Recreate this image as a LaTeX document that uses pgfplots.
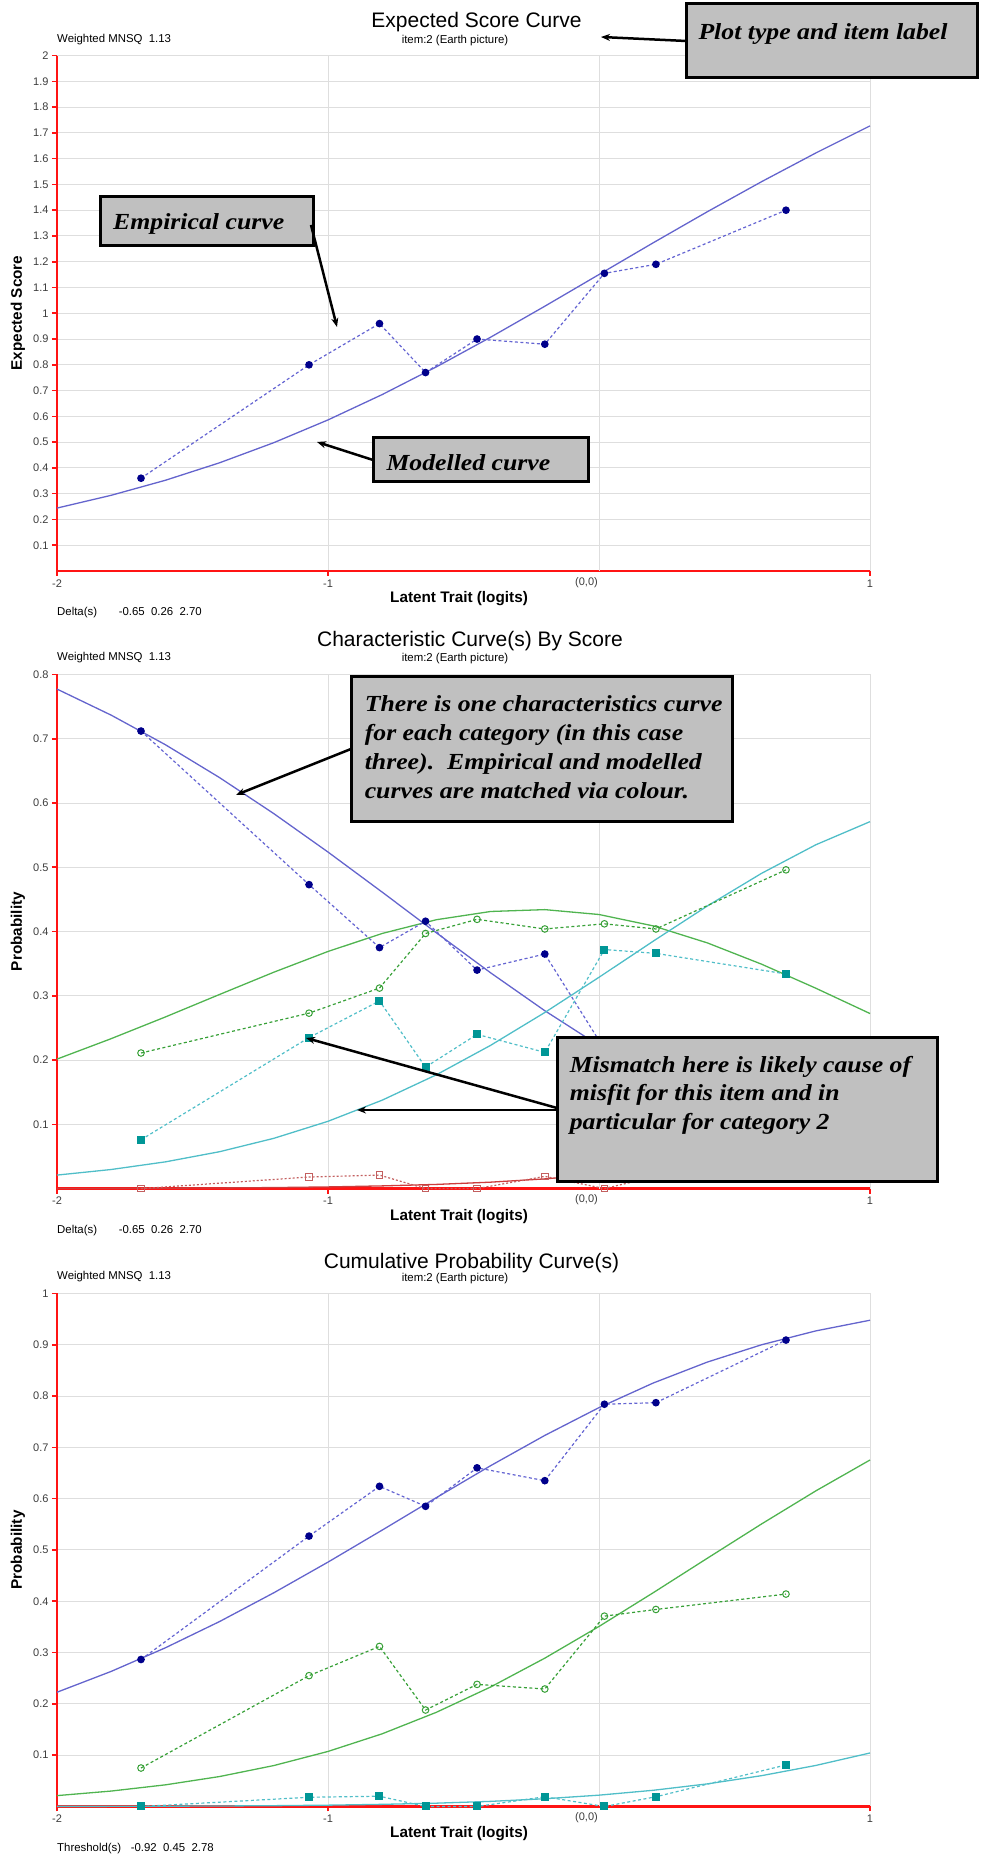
\documentclass[border=0pt]{standalone}
\usepackage{fontspec}
\setmainfont{Liberation Sans}
\newfontfamily\boxfont[FakeStretch=1.12]{Liberation Serif}
\usepackage{pgfplots}
\pgfplotsset{compat=1.18}
\usetikzlibrary{arrows.meta}
\definecolor{axred}{RGB}{255,20,20}
\definecolor{gridgray}{RGB}{222,222,222}
\definecolor{tickgray}{RGB}{60,60,60}
\definecolor{mblue}{RGB}{100,100,205}
\definecolor{eblue}{RGB}{0,0,139}
\definecolor{eblueline}{RGB}{100,100,210}
\definecolor{mgreen}{RGB}{80,180,80}
\definecolor{egreen}{RGB}{55,160,55}
\definecolor{mteal}{RGB}{80,190,200}
\definecolor{eteal}{RGB}{0,150,150}
\definecolor{etealline}{RGB}{80,190,200}
\definecolor{mred}{RGB}{205,60,60}
\definecolor{ered}{RGB}{195,95,95}
\definecolor{boxgray}{RGB}{192,192,192}
\newcommand\tickf{\fontsize{11}{13}\selectfont}
\newcommand\smallf{\fontsize{11.4}{13}\selectfont}
\newcommand\titlef{\fontsize{21}{24}\selectfont}
\newcommand\labf{\fontsize{15.3}{17}\selectfont\bfseries}
\newcommand\bxf{\boxfont\bfseries\itshape\fontsize{23}{28.5}\selectfont}
\pgfplotsset{
  irt/.style={
    scale only axis, width=813pt,
    xmin=-2, xmax=1, ymin=0,
    axis x line=bottom, axis y line=left,
    axis line style={-, draw=axred, line width=2.2pt},
    xtick={-2,-1,1}, xticklabels={-2,-1,1},
    extra x ticks={0}, extra x tick labels={},
    extra x tick style={major tick length=0pt, grid=major},
    grid=major,
    major grid style={draw=gridgray, line width=1pt},
    tick style={draw=axred, line width=1.6pt},
    tick align=outside, major tick length=5pt,
    ticklabel style={font=\tickf, text=tickgray},
    clip=false,
  },
  model/.style={line width=1.3pt},
  emp/.style={line width=1.2pt, dash pattern=on 3pt off 2.5pt},
}
\begin{document}
\begin{tikzpicture}[x=1pt,y=1pt]
\useasboundingbox (0,0) rectangle (989,1855);
% ---------------- Top: expected score
\begin{axis}[irt, at={(57pt,1284pt)}, anchor=south west, height=515.4pt, ymax=2,
  ytick={0.1,0.2,0.3,0.4,0.5,0.6,0.7,0.8,0.9,1,1.1,1.2,1.3,1.4,1.5,1.6,1.7,1.8,1.9,2},
  yticklabels={0.1,0.2,0.3,0.4,0.5,0.6,0.7,0.8,0.9,1,1.1,1.2,1.3,1.4,1.5,1.6,1.7,1.8,1.9,2}]
\addplot[model, mblue] coordinates {(-2.0,0.2441)(-1.8,0.2937)(-1.6,0.3520)(-1.4,0.4199)(-1.2,0.4979)(-1.0,0.5862)(-0.8,0.6846)(-0.6,0.7921)(-0.4,0.9071)(-0.2,1.0274)(0.0,1.1504)(0.2,1.2735)(0.4,1.3942)(0.6,1.5107)(0.8,1.6220)(1.0,1.7272)};
\addplot[emp, eblueline, mark=*, mark size=3.2pt, mark options={solid, fill=eblue, draw=eblue}] coordinates {(-1.69,0.36)(-1.07,0.80)(-0.81,0.96)(-0.64,0.77)(-0.45,0.90)(-0.20,0.88)(0.02,1.155)(0.21,1.19)(0.69,1.40)};
\node[anchor=north east, font=\tickf, text=tickgray, inner sep=1pt] at (axis cs:0,0) [yshift=-5pt] {(0,0)};
\end{axis}
% ---------------- Middle: characteristic curves
\begin{axis}[irt, at={(57pt,666.4pt)}, anchor=south west, height=514.1pt, ymax=0.8,
  ytick={0.1,0.2,0.3,0.4,0.5,0.6,0.7,0.8},
  yticklabels={0.1,0.2,0.3,0.4,0.5,0.6,0.7,0.8}]
\addplot[model, mblue] coordinates {(-2.0,0.7773)(-1.8,0.7367)(-1.6,0.6907)(-1.4,0.6395)(-1.2,0.5835)(-1.0,0.5237)(-0.8,0.4613)(-0.6,0.3980)(-0.4,0.3358)(-0.2,0.2768)(0.0,0.2226)(0.2,0.1747)(0.4,0.1338)(0.6,0.1001)(0.8,0.0731)(1.0,0.0523)};
\addplot[model, mgreen] coordinates {(-2.0,0.2015)(-1.8,0.2333)(-1.6,0.2671)(-1.4,0.3021)(-1.2,0.3367)(-1.0,0.3690)(-0.8,0.3970)(-0.6,0.4184)(-0.4,0.4312)(-0.2,0.4341)(0.0,0.4265)(0.2,0.4088)(0.4,0.3823)(0.6,0.3492)(0.8,0.3118)(1.0,0.2724)};
\addplot[model, mteal] coordinates {(-2.0,0.0210)(-1.8,0.0297)(-1.6,0.0416)(-1.4,0.0574)(-1.2,0.0782)(-1.0,0.1047)(-0.8,0.1376)(-0.6,0.1771)(-0.4,0.2229)(-0.2,0.2740)(0.0,0.3288)(0.2,0.3850)(0.4,0.4398)(0.6,0.4906)(0.8,0.5350)(1.0,0.5710)};
\addplot[model, mred] coordinates {(-2.0,0.0002)(-1.8,0.0003)(-1.6,0.0006)(-1.4,0.0010)(-1.2,0.0016)(-1.0,0.0026)(-0.8,0.0042)(-0.6,0.0065)(-0.4,0.0100)(-0.2,0.0151)(0.0,0.0221)(0.2,0.0316)(0.4,0.0441)(0.6,0.0601)(0.8,0.0800)(1.0,0.1043)};
\addplot[emp, eblueline, mark=*, mark size=3.2pt, mark options={solid, fill=eblue, draw=eblue}] coordinates {(-1.69,0.712)(-1.07,0.473)(-0.81,0.375)(-0.64,0.416)(-0.45,0.340)(-0.20,0.365)(0.02,0.217)(0.21,0.213)(0.69,0.091)};
\addplot[emp, egreen, mark=o, mark size=3.3pt, mark options={solid, draw=egreen, line width=1pt}] coordinates {(-1.69,0.211)(-1.07,0.273)(-0.81,0.312)(-0.64,0.397)(-0.45,0.419)(-0.20,0.404)(0.02,0.412)(0.21,0.404)(0.69,0.496)};
\addplot[emp, etealline, mark=square*, mark size=3.4pt, mark options={solid, fill=eteal, draw=eteal}] coordinates {(-1.69,0.076)(-1.07,0.235)(-0.81,0.292)(-0.64,0.189)(-0.45,0.240)(-0.20,0.212)(0.02,0.372)(0.21,0.366)(0.69,0.334)};
\addplot[line width=1.2pt, dash pattern=on 2pt off 2pt, ered, mark=square, mark size=3.2pt, mark options={solid, draw=ered, line width=1pt}] coordinates {(-1.69,0)(-1.07,0.018)(-0.81,0.021)(-0.64,0)(-0.45,0)(-0.20,0.019)(0.02,0)(0.21,0.019)(0.69,0.081)};
\node[anchor=north east, font=\tickf, text=tickgray, inner sep=1pt] at (axis cs:0,0) [yshift=-5pt] {(0,0)};
\end{axis}
% ---------------- Bottom: cumulative
\begin{axis}[irt, at={(57pt,48.5pt)}, anchor=south west, height=513.1pt, ymax=1,
  ytick={0.1,0.2,0.3,0.4,0.5,0.6,0.7,0.8,0.9,1},
  yticklabels={0.1,0.2,0.3,0.4,0.5,0.6,0.7,0.8,0.9,1}]
\addplot[model, mblue] coordinates {(-2.0,0.2227)(-1.8,0.2633)(-1.6,0.3093)(-1.4,0.3605)(-1.2,0.4165)(-1.0,0.4763)(-0.8,0.5387)(-0.6,0.6020)(-0.4,0.6642)(-0.2,0.7232)(0.0,0.7774)(0.2,0.8253)(0.4,0.8662)(0.6,0.8999)(0.8,0.9269)(1.0,0.9477)};
\addplot[model, mgreen] coordinates {(-2.0,0.0212)(-1.8,0.0301)(-1.6,0.0422)(-1.4,0.0584)(-1.2,0.0798)(-1.0,0.1073)(-0.8,0.1417)(-0.6,0.1836)(-0.4,0.2329)(-0.2,0.2891)(0.0,0.3509)(0.2,0.4166)(0.4,0.4839)(0.6,0.5507)(0.8,0.6151)(1.0,0.6753)};
\addplot[model, mteal] coordinates {(-2.0,0.0002)(-1.8,0.0003)(-1.6,0.0006)(-1.4,0.0010)(-1.2,0.0016)(-1.0,0.0026)(-0.8,0.0042)(-0.6,0.0065)(-0.4,0.0100)(-0.2,0.0151)(0.0,0.0221)(0.2,0.0316)(0.4,0.0441)(0.6,0.0601)(0.8,0.0800)(1.0,0.1043)};
\addplot[emp, eblueline, mark=*, mark size=3.2pt, mark options={solid, fill=eblue, draw=eblue}] coordinates {(-1.69,0.2865)(-1.07,0.527)(-0.81,0.624)(-0.64,0.585)(-0.45,0.660)(-0.20,0.635)(0.02,0.784)(0.21,0.787)(0.69,0.909)};
\addplot[emp, egreen, mark=o, mark size=3.3pt, mark options={solid, draw=egreen, line width=1pt}] coordinates {(-1.69,0.075)(-1.07,0.255)(-0.81,0.312)(-0.64,0.188)(-0.45,0.238)(-0.20,0.229)(0.02,0.371)(0.21,0.384)(0.69,0.414)};
\addplot[emp, etealline, mark=square*, mark size=3.4pt, mark options={solid, fill=eteal, draw=eteal}] coordinates {(-1.69,0)(-1.07,0.018)(-0.81,0.020)(-0.64,0)(-0.45,0)(-0.20,0.019)(0.02,0)(0.21,0.019)(0.69,0.081)};
\node[anchor=north east, font=\tickf, text=tickgray, inner sep=1pt] at (axis cs:0,0) [yshift=-5pt] {(0,0)};
\end{axis}
% ---------------- texts
\node[anchor=base, font=\titlef] at (476.5,1827.4) {Expected Score Curve};
\node[anchor=base west, font=\smallf, inner sep=0pt] at (57,1812) {Weighted MNSQ\ \ 1.13};
\node[anchor=base, font=\smallf, inner sep=0pt] at (455,1811.4) {item:2 (Earth picture)};
\node[anchor=base, font=\labf] at (459,1252.5) {Latent Trait (logits)};
\node[anchor=base west, font=\smallf, inner sep=0pt] at (57,1239) {Delta(s)};
\node[anchor=base west, font=\smallf, inner sep=0pt] at (118.6,1239) {-0.65\ \ 0.26\ \ 2.70};
\node[rotate=90, font=\labf] at (18,1542) {Expected Score};

\node[anchor=base, font=\titlef] at (470,1208.5) {Characteristic Curve(s) By Score};
\node[anchor=base west, font=\smallf, inner sep=0pt] at (57,1194.5) {Weighted MNSQ\ \ 1.13};
\node[anchor=base, font=\smallf, inner sep=0pt] at (455,1193.5) {item:2 (Earth picture)};
\node[anchor=base, font=\labf] at (459,634.9) {Latent Trait (logits)};
\node[anchor=base west, font=\smallf, inner sep=0pt] at (57,621.4) {Delta(s)};
\node[anchor=base west, font=\smallf, inner sep=0pt] at (118.6,621.4) {-0.65\ \ 0.26\ \ 2.70};
\node[rotate=90, font=\labf] at (18,923.5) {Probability};

\node[anchor=base, font=\titlef] at (471.5,586.6) {Cumulative Probability Curve(s)};
\node[anchor=base west, font=\smallf, inner sep=0pt] at (57,575) {Weighted MNSQ\ \ 1.13};
\node[anchor=base, font=\smallf, inner sep=0pt] at (455,573) {item:2 (Earth picture)};
\node[anchor=base, font=\labf] at (459,17) {Latent Trait (logits)};
\node[anchor=base west, font=\smallf, inner sep=0pt] at (57,3.5) {Threshold(s)};
\node[anchor=base west, font=\smallf, inner sep=0pt] at (130.6,3.5) {-0.92\ \ 0.45\ \ 2.78};
\node[rotate=90, font=\labf] at (18,305) {Probability};
% ---------------- annotation boxes
\begin{scope}[line width=3pt]
\draw[fill=boxgray] (686,1851) rectangle (977,1777);
\node[anchor=base west, font=\bxf, inner sep=0pt] at (697,1815) {Plot type and item label};
\draw[line width=2.5pt, -{Stealth[length=9pt,width=7pt]}] (686,1814) -- (601,1818);

\draw[fill=boxgray] (100,1658) rectangle (313,1609);
\node[anchor=base west, font=\bxf, inner sep=0pt] at (111.7,1625.7) {Empirical curve};
\draw[line width=2.5pt, -{Stealth[length=9pt,width=7pt]}] (311,1630) -- (337,1528);

\draw[fill=boxgray] (373,1417) rectangle (588,1373.5);
\node[anchor=base west, font=\bxf, inner sep=0pt] at (385,1384) {Modelled curve};
\draw[line width=2.5pt, -{Stealth[length=9pt,width=7pt]}] (373,1395) -- (317,1413);

\draw[fill=boxgray] (351,1178) rectangle (732,1033);
\node[anchor=base west, font=\bxf, inner sep=0pt] at (363.3,1143) {There is one characteristics curve};
\node[anchor=base west, font=\bxf, inner sep=0pt] at (363.3,1114) {for each category (in this case};
\node[anchor=base west, font=\bxf, inner sep=0pt] at (363.3,1085) {three).\ \ Empirical and modelled};
\node[anchor=base west, font=\bxf, inner sep=0pt] at (363.3,1056) {curves are matched via colour.};
\draw[line width=2.5pt, -{Stealth[length=9pt,width=7pt]}] (351,1106) -- (236,1060);

\draw[line width=2.5pt, -{Stealth[length=9pt,width=7pt]}] (557,747) -- (306,817);
\draw[line width=2.5pt, -{Stealth[length=9pt,width=7pt]}] (557,745) -- (357,745);
\draw[fill=boxgray] (557,817) rectangle (937,673);
\node[anchor=base west, font=\bxf, inner sep=0pt] at (568.3,782.3) {Mismatch here is likely cause of};
\node[anchor=base west, font=\bxf, inner sep=0pt] at (568.3,754) {misfit for this item and in};
\node[anchor=base west, font=\bxf, inner sep=0pt] at (568.3,725) {particular for category 2};
\end{scope}
\end{tikzpicture}
\end{document}
